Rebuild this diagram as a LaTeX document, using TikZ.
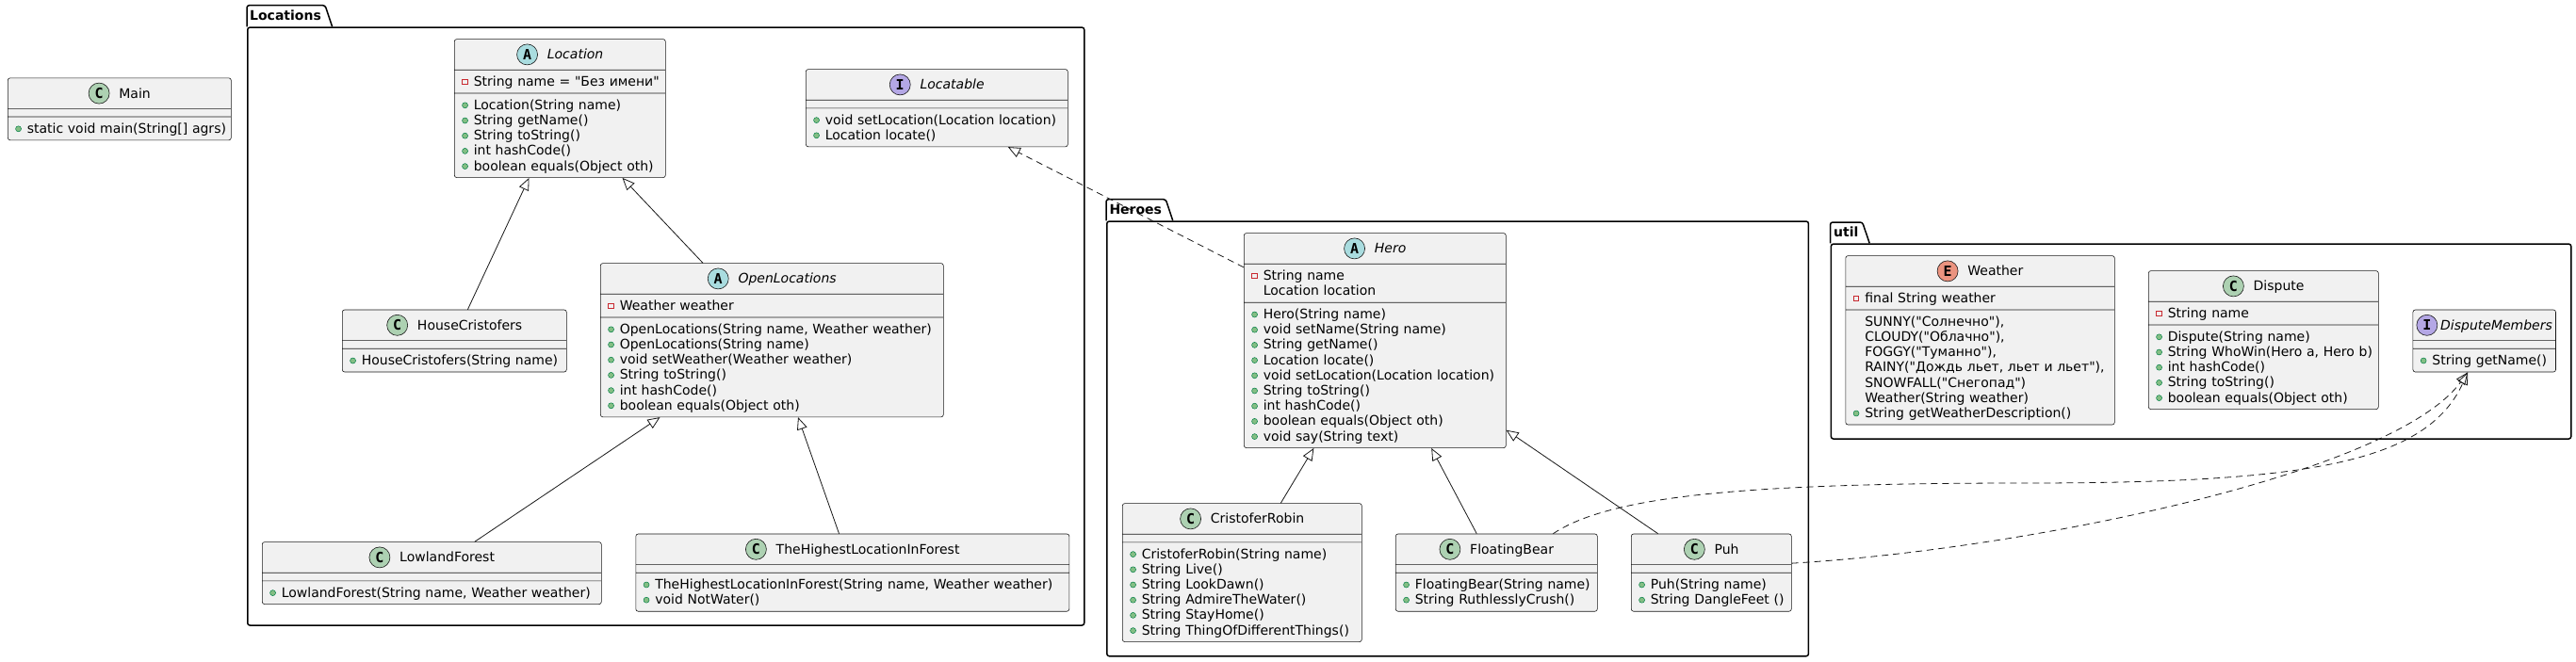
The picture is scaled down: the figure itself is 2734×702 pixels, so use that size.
\documentclass[tikz,border=0pt]{standalone}
\usepackage{fontspec}
\setmainfont{DejaVu Sans}[Ligatures=TeXOff]
\newfontfamily\iconfont{DejaVu Sans Mono}
\usetikzlibrary{arrows.meta,calc,positioning,shapes.multipart}
\definecolor{umlfill}{HTML}{F1F1F1}
\definecolor{umlline}{HTML}{181818}
\definecolor{classfill}{HTML}{ADD1B2}
\definecolor{absfill}{HTML}{A9DCDF}
\definecolor{ifacefill}{HTML}{B4A7E5}
\definecolor{enumfill}{HTML}{EB937F}
\definecolor{pubfill}{HTML}{84BE84}
\definecolor{publine}{HTML}{038048}
\definecolor{privline}{HTML}{C82930}

\newcommand\umlfont{\fontsize{14pt}{16.2pt}\selectfont\parindent=0pt}
\newcommand\pkgfont{\fontsize{14pt}{16.2pt}\selectfont\bfseries}
\newcommand\mstrut{\rule[-3.2pt]{0pt}{16.2pt}}
% member lines: public, private, no marker
\newcommand\pubm[1]{\mbox{\mstrut\makebox[14.5pt][l]{\hspace{2pt}\tikz[baseline=-4.5pt]\draw[sharp corners,solid,draw=publine,fill=pubfill,line width=0.5pt] (0pt,0pt) circle (3pt);}#1}}
\newcommand\privm[1]{\mbox{\mstrut\makebox[14.5pt][l]{\hspace{2pt}\tikz[baseline=-4.5pt]\draw[sharp corners,solid,draw=privline,line width=0.8pt] (-2.8pt,-2.8pt) rectangle (2.8pt,2.8pt);}#1}}
\newcommand\nom[1]{\mbox{\mstrut\hspace{14.5pt}#1}}
% class title with its letter circle
\newcommand\classhead[4][10pt]{\hbox to\hsize{\hss\rule[-7pt]{0pt}{24pt}\tikz[baseline=-5pt]\node[shape=circle,anchor=center,text width={},draw=umlline,line width=0.6pt,fill=#3,minimum size=22pt,inner sep=0pt,font=\iconfont\fontsize{15pt}{15pt}\selectfont\bfseries]{#2};\hspace{#1}#4\hss}}

\begin{document}
\begin{tikzpicture}[
  x=1pt, y=-1pt,
  umlclass/.style={
    rectangle split,
    rectangle split parts=3,
    rectangle split empty part height=0pt,
    rectangle split empty part depth=0pt,
    rectangle split empty part width=0pt,
    draw=umlline,
    fill=umlfill,
    line width=0.6pt,
    rounded corners=2.5pt,
    inner xsep=6pt,
    inner ysep=4pt,
    text width=#1,
    align=left,
    font=\umlfont,
    anchor=north west
  },
  pkgbox/.style={
    draw=black,
    line width=1.5pt,
    rounded corners=2.5pt,
    inner sep=0pt,
    anchor=north west
  },
  pkgline/.style={draw=black, line width=1.5pt, rounded corners=2.5pt},
  pkgname/.style={font=\pkgfont, inner sep=0pt, anchor=base west},
  extends/.style={-{Triangle[open, length=13pt, width=11pt]}, draw=umlline, line width=0.8pt},
  realizes/.style={extends, dash pattern=on 7pt off 5pt}
]
\useasboundingbox (0,0) rectangle (2734,702);
\fill[white] (0,0) rectangle (2734,702);

% packages
\node[pkgbox, minimum width=888pt, minimum height=635pt] (locpkg) at (262,28.3) {};
\node[pkgname] (locname) at (265,21.1) {Locations};
\draw[pkgline] (locpkg.north west) |- ($(locname.base east)+(4,-15.4)$) -- ($(locname.base east)+(11.5,7.2)$);

\node[pkgbox, minimum width=744.7pt, minimum height=461.7pt] (heropkg) at (1174,234.3) {};
\node[pkgname] (heroname) at (1177.3,227.1) {Heroes};
\draw[pkgline] (heropkg.north west) |- ($(heroname.base east)+(4,-15.4)$) -- ($(heroname.base east)+(11.5,7.2)$);

\node[pkgbox, minimum width=785.4pt, minimum height=207pt] (utilpkg) at (1942.6,258.3) {};
\node[pkgname] (utilname) at (1946,251.4) {util};
\draw[pkgline] (utilpkg.north west) |- ($(utilname.base east)+(4,-15.4)$) -- ($(utilname.base east)+(11.5,6.9)$);

% classes
\node[umlclass=225pt] (main) at (8,82.5)
  {\classhead{C}{classfill}{Main}
  \nodepart{two}
  \nodepart{three}\pubm{static void main(String[] agrs)}};

\node[umlclass=212pt] (loc) at (482,41.3)
  {\classhead{A}{absfill}{\textit{Location}}
  \nodepart{two}\privm{String name = "Без имени"}
  \nodepart{three}\pubm{Location(String name)}\\
  \pubm{String getName()}\\
  \pubm{String toString()}\\
  \pubm{int hashCode()}\\
  \pubm{boolean equals(Object oth)}};

\node[umlclass=266pt] (locable) at (855,73.3)
  {\classhead{I}{ifacefill}{\textit{Locatable}}
  \nodepart{two}
  \nodepart{three}\pubm{void setLocation(Location location)}\\
  \pubm{Location locate()}};

\node[umlclass=226pt] (hc) at (363,328.7)
  {\classhead{C}{classfill}{HouseCristofers}
  \nodepart{two}
  \nodepart{three}\pubm{HouseCristofers(String name)}};

\node[umlclass=352pt] (ol) at (637,279.3)
  {\classhead{A}{absfill}{\textit{OpenLocations}}
  \nodepart{two}\privm{Weather weather}
  \nodepart{three}\pubm{OpenLocations(String name, Weather weather)}\\
  \pubm{OpenLocations(String name)}\\
  \pubm{void setWeather(Weather weather)}\\
  \pubm{String toString()}\\
  \pubm{int hashCode()}\\
  \pubm{boolean equals(Object oth)}};

\node[umlclass=348pt] (lf) at (278,575.3)
  {\classhead{C}{classfill}{LowlandForest}
  \nodepart{two}
  \nodepart{three}\pubm{LowlandForest(String name, Weather weather)}};

\node[umlclass=448pt] (hl) at (674.5,566.7)
  {\classhead{C}{classfill}{TheHighestLocationInForest}
  \nodepart{two}
  \nodepart{three}\pubm{TheHighestLocationInForest(String name, Weather weather)}\\
  \pubm{void NotWater()}};

\node[umlclass=266pt] (hero) at (1320,247.3)
  {\classhead{A}{absfill}{\textit{Hero}}
  \nodepart{two}\privm{String name}\\
  \nom{Location location}
  \nodepart{three}\pubm{Hero(String name)}\\
  \pubm{void setName(String name)}\\
  \pubm{String getName()}\\
  \pubm{Location locate()}\\
  \pubm{void setLocation(Location location)}\\
  \pubm{String toString()}\\
  \pubm{int hashCode()}\\
  \pubm{boolean equals(Object oth)}\\
  \pubm{void say(String text)}};

\node[umlclass=242pt] (cr) at (1191,534.3)
  {\classhead{C}{classfill}{CristoferRobin}
  \nodepart{two}
  \nodepart{three}\pubm{CristoferRobin(String name)}\\
  \pubm{String Live()}\\
  \pubm{String LookDawn()}\\
  \pubm{String AdmireTheWater()}\\
  \pubm{String StayHome()}\\
  \pubm{String ThingOfDifferentThings()}};

\node[umlclass=202pt] (fb) at (1481,566.7)
  {\classhead{C}{classfill}{FloatingBear}
  \nodepart{two}
  \nodepart{three}\pubm{FloatingBear(String name)}\\
  \pubm{String RuthlesslyCrush()}};

\node[umlclass=158pt] (puh) at (1731,566.7)
  {\classhead{C}{classfill}{Puh}
  \nodepart{two}
  \nodepart{three}\pubm{Puh(String name)}\\
  \pubm{String DangleFeet ()}};

\node[umlclass=273.5pt] (weather) at (1958.5,271.3)
  {\classhead{E}{enumfill}{Weather}
  \nodepart{two}\privm{final String weather}
  \nodepart{three}\nom{SUNNY("Солнечно"),}\\
  \nom{CLOUDY("Облачно"),}\\
  \nom{FOGGY("Туманно"),}\\
  \nom{RAINY("Дождь льет, льет и льет"),}\\
  \nom{SNOWFALL("Снегопад")}\\
  \nom{Weather(String weather)}\\
  \pubm{String getWeatherDescription()}};

\node[umlclass=232pt] (disp) at (2280,287.3)
  {\classhead{C}{classfill}{Dispute}
  \nodepart{two}\privm{String name}
  \nodepart{three}\pubm{Dispute(String name)}\\
  \pubm{String WhoWin(Hero a, Hero b)}\\
  \pubm{int hashCode()}\\
  \pubm{String toString()}\\
  \pubm{boolean equals(Object oth)}};

\node[umlclass=139.6pt] (dm) at (2560.6,328.7)
  {\classhead[3pt]{I}{ifacefill}{\textit{DisputeMembers}}
  \nodepart{two}
  \nodepart{three}\pubm{String getName()}};

% generalisations
\draw[extends] ($(hc.north west)!0.559!(hc.north east)$) -- ($(loc.south west)!0.354!(loc.south east)$);
\draw[extends] ($(ol.north west)!0.299!(ol.north east)$) -- ($(loc.south west)!0.795!(loc.south east)$);
\draw[extends] ($(lf.north west)!0.626!(lf.north east)$) -- ($(ol.south west)!0.174!(ol.south east)$);
\draw[extends] ($(hl.north west)!0.469!(hl.north east)$) -- ($(ol.south west)!0.576!(ol.south east)$);
\draw[extends] ($(cr.north west)!0.661!(cr.north east)$) -- ($(hero.south west)!0.267!(hero.south east)$);
\draw[extends] ($(fb.north west)!0.402!(fb.north east)$) -- ($(hero.south west)!0.715!(hero.south east)$);
\draw[extends] ($(puh.north west)!0.168!(puh.north east)$) -- ($(hero.north east)!0.916!(hero.south east)$);

% realisations
\draw[realizes] ($(hero.north west)!0.16!(hero.south west)$) -- ($(locable.south west)!0.771!(locable.south east)$);
\coordinate (bend) at (2150,513);
\draw[realizes] ($(fb.north west)!0.78!(fb.north east)$) .. controls +(60,-40) and +(-300,0) .. (bend)
  .. controls +(300,0) and +(-44,96) .. ($(dm.south west)!0.385!(dm.south east)$);
\draw[realizes] ($(puh.north east)!0.38!(puh.south east)$) .. controls +(250,-15) and +(-79,108) .. ($(dm.south west)!0.385!(dm.south east)$);

\end{tikzpicture}
\end{document}
